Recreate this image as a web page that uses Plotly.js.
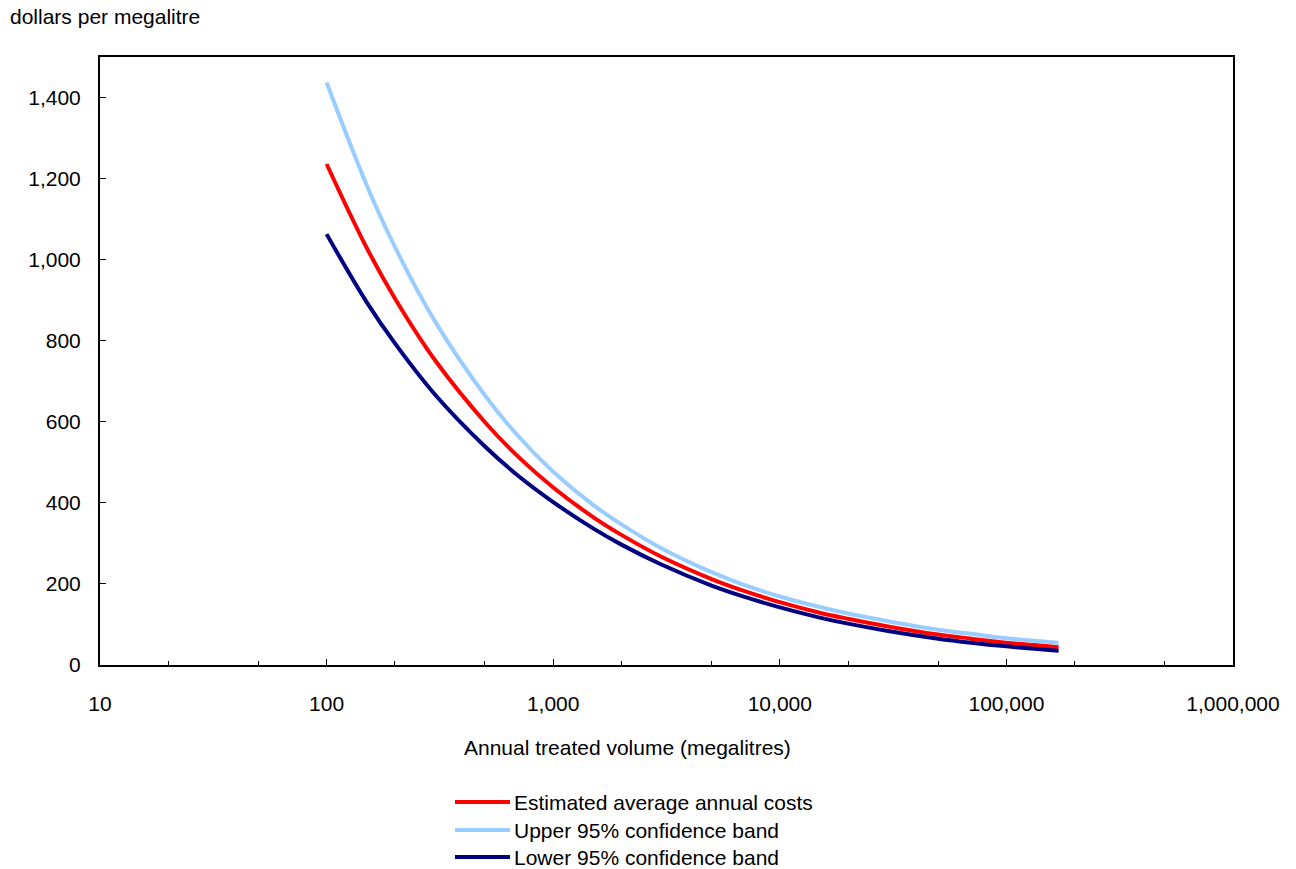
<!DOCTYPE html>
<html>
<head>
<meta charset="utf-8">
<script src="https://cdn.plot.ly/plotly-3.0.1.min.js"></script>
<style>body{margin:0;background:#fff}#chart{width:1296px;height:869px}</style>
</head>
<body>
<div id="chart"></div>
<script>
const volume    = [100, 150, 200, 300, 500, 700, 1000, 1500, 2000, 3000, 5000, 7000, 10000, 15000, 20000, 30000, 50000, 70000, 100000, 170000];
const estimated = [1236, 1030, 905, 753, 599, 514, 438, 365, 321, 267, 212, 182, 155, 129, 114, 95, 75, 65, 55, 44];
const upperBand = [1437, 1185, 1032, 849, 665, 565, 477, 395, 347, 288, 229, 197, 169, 143, 127, 108, 87, 77, 66, 55];
const lowerBand = [1063, 896, 794, 668, 539, 467, 402, 337, 297, 248, 196, 168, 142, 117, 102, 84, 65, 55, 46, 35];
const xTickVals = [10, 100, 1000, 10000, 100000, 1000000];
const xTickText = ["10", "100", "1,000", "10,000", "100,000", "1,000,000"];
const yTickVals = [0, 200, 400, 600, 800, 1000, 1200, 1400];
const yTickText = ["0", "200", "400", "600", "800", "1,000", "1,200", "1,400"];
const seriesNames = ["Estimated average annual costs", "Upper 95% confidence band", "Lower 95% confidence band"];
const seriesColors = ["#ff0000", "#99ccff", "#000080"];
const seriesValues = [estimated, upperBand, lowerBand];

const font = "Liberation Sans, Arial, sans-serif";
const FS = 21;
// plot area in pixels: left 100, right 1233, top 57, bottom 665
const px2x = p => (p - 100) / 1133;
const px2y = p => (665 - p) / 608;

const traces = seriesValues.map((vals, i) => ({
  x: volume, y: vals, name: seriesNames[i], mode: "lines", showlegend: false,
  line: {color: seriesColors[i], width: 4, shape: "spline", smoothing: 1}
}));

const legendRows = [802, 830, 857];
const shapes = [];
const annotations = [
  {text: "dollars per megalitre", xref: "paper", yref: "paper",
   x: px2x(8), y: px2y(17), xanchor: "left", yanchor: "middle", showarrow: false,
   font: {size: FS}},
  {text: "Annual treated volume (megalitres)", xref: "paper", yref: "paper",
   x: px2x(627), y: px2y(748), xanchor: "center", yanchor: "middle", showarrow: false,
   font: {size: FS}}
];
seriesNames.forEach((name, i) => {
  shapes.push({type: "line", xref: "paper", yref: "paper",
    x0: px2x(455), x1: px2x(510), y0: px2y(legendRows[i]), y1: px2y(legendRows[i]),
    line: {color: seriesColors[i], width: 4}});
  annotations.push({text: name, xref: "paper", yref: "paper",
    x: px2x(512), y: px2y(legendRows[i]), xanchor: "left", yanchor: "middle",
    showarrow: false, font: {size: FS}});
});

const layout = {
  width: 1296, height: 869,
  margin: {l: 100, r: 63, t: 57, b: 204},
  paper_bgcolor: "#fff", plot_bgcolor: "#fff",
  font: {family: font, size: FS, color: "#000"},
  showlegend: false,
  xaxis: {type: "log", range: [1, 6], tickvals: xTickVals, ticktext: xTickText,
          ticks: "inside", ticklen: 6, tickwidth: 1, tickcolor: "#000",
          showline: true, linecolor: "#000", linewidth: 2, mirror: true,
          showgrid: false, zeroline: false, ticklabelstandoff: 19, automargin: false,
          minor: {ticks: "inside", ticklen: 4, tickcolor: "#000", showgrid: false}},
  yaxis: {range: [0, 1500], tickvals: yTickVals, ticktext: yTickText,
          ticks: "inside", ticklen: 6, tickwidth: 1, tickcolor: "#000",
          showline: true, linecolor: "#000", linewidth: 2, mirror: true, automargin: false,
          showgrid: false, zeroline: false, ticklabelstandoff: 13},
  shapes: shapes,
  annotations: annotations
};
Plotly.newPlot("chart", traces, layout, {displayModeBar: false});
</script>
</body>
</html>
